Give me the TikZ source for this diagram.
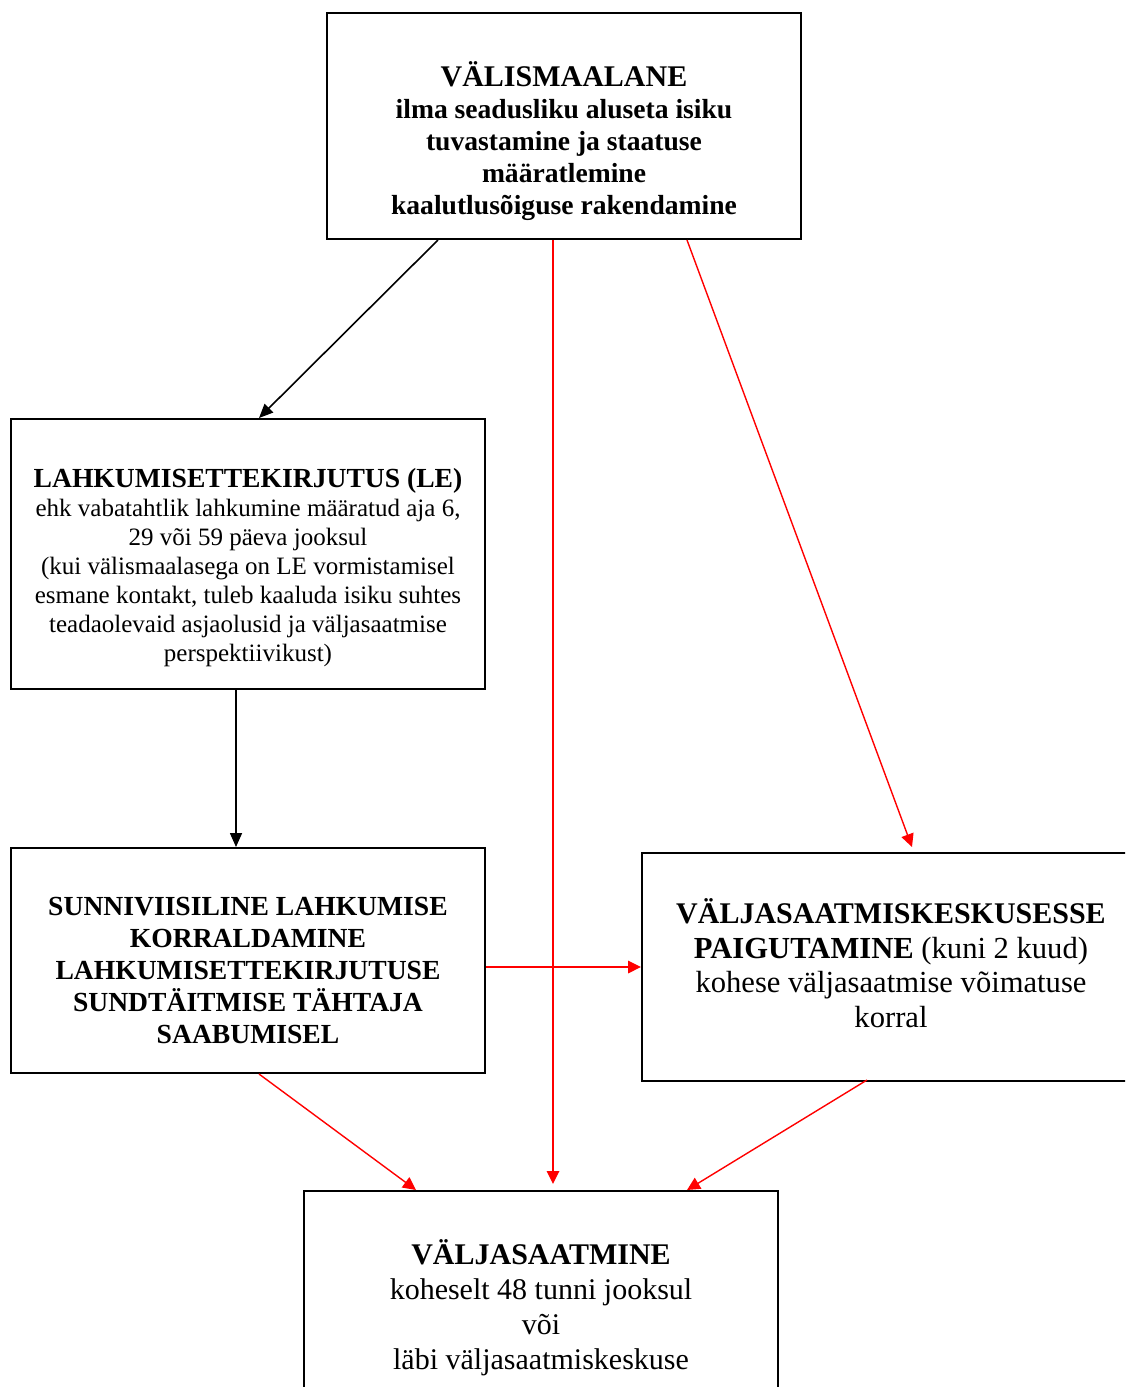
\documentclass[tikz,border=0pt]{standalone}
\usepackage{fontspec}
\setmainfont{Liberation Serif}
\usetikzlibrary{arrows.meta, calc}

\begin{document}
\begin{tikzpicture}[x=0.5pt, y=-0.5pt,
    box/.style={draw, line width=1pt, rectangle, inner sep=0pt, minimum width=237pt},
    boxtext/.style={align=center, inner sep=0pt},
    blackarrow/.style={line width=0.8pt, -{Triangle[length=7pt, width=6pt]}},
    redarrow/.style={red, line width=0.7pt, -{Triangle[length=6.5pt, width=6.3pt]}}]
    \useasboundingbox (0,0) rectangle (1125,1387);
    \clip (0,0) rectangle (1125,1387);

    % Boxes
    \node[box, minimum height=113pt] (top) at (564,126) {};
    \node[box, minimum height=135pt] (le) at (248,554) {};
    \node[box, minimum height=112.5pt] (sund) at (248,960.5) {};
    \node[box, minimum width=249pt, minimum height=114pt] (keskus) at (891,967) {};
    \node[box, minimum height=113pt] (bottom) at (541,1304) {};

    % Texts in the boxes
    \node[boxtext, font=\fontsize{13.8}{16}\selectfont\bfseries] (topText) at ([yshift=-7.5pt]top.center)
        {{\fontsize{15}{16}\selectfont VÄLISMAALANE}\\ilma seadusliku aluseta isiku\\tuvastamine ja staatuse\\määratlemine\\kaalutlusõiguse rakendamine};
    \node[boxtext, font=\fontsize{12.5}{14.5}\selectfont] (leText) at ([yshift=-7pt]le.center)
        {{\fontsize{13.8}{14.5}\selectfont\bfseries LAHKUMISETTEKIRJUTUS (LE)}\\ehk vabatahtlik lahkumine määratud aja 6,\\29 või 59 päeva jooksul\\(kui välismaalasega on LE vormistamisel\\esmane kontakt, tuleb kaaluda isiku suhtes\\teadaolevaid asjaolusid ja väljasaatmise\\perspektiivikust)};
    \node[boxtext, font=\fontsize{13.8}{16}\selectfont\bfseries] (sundText) at ([yshift=-5pt]sund.center)
        {SUNNIVIISILINE LAHKUMISE\\KORRALDAMINE\\LAHKUMISETTEKIRJUTUSE\\SUNDTÄITMISE TÄHTAJA\\SAABUMISEL};
    \node[boxtext, font=\fontsize{15.3}{17.25}\selectfont] (keskusText) at ([yshift=2pt]keskus.center)
        {{\fontsize{15}{17.25}\selectfont\bfseries VÄLJASAATMISKESKUSESSE}\\\textbf{PAIGUTAMINE} (kuni 2 kuud)\\kohese väljasaatmise võimatuse\\korral};
    \node[boxtext, font=\fontsize{15}{17.5}\selectfont] (bottomText) at ([yshift=-2pt]bottom.center)
        {\textbf{VÄLJASAATMINE}\\koheselt 48 tunni jooksul\\või\\läbi väljasaatmiskeskuse};

    % Arrows
    \draw[blackarrow] ($(top.south west)+(112,0)$) -- ($(le.north west)+(249,0)$);
    \draw[redarrow] ($(top.south west)+(227,0)$) -- ($(bottom.north west)+(250,-6)$);
    \draw[redarrow] ($(top.south west)+(361,0)$) -- ($(keskus.north west)+(271,-5)$);
    \draw[blackarrow] ($(le.south west)+(226,0)$) -- ($(sund.north west)+(226,0)$);
    \draw[redarrow] (sund.east |- keskus.west) -- (keskus.west);
    \draw[redarrow] ($(sund.south west)+(249,0)$) -- ($(bottom.north west)+(113,0)$);
    \draw[redarrow] ($(keskus.south west)+(226,-2)$) -- ($(bottom.north west)+(384,0)$);
\end{tikzpicture}
\end{document}
